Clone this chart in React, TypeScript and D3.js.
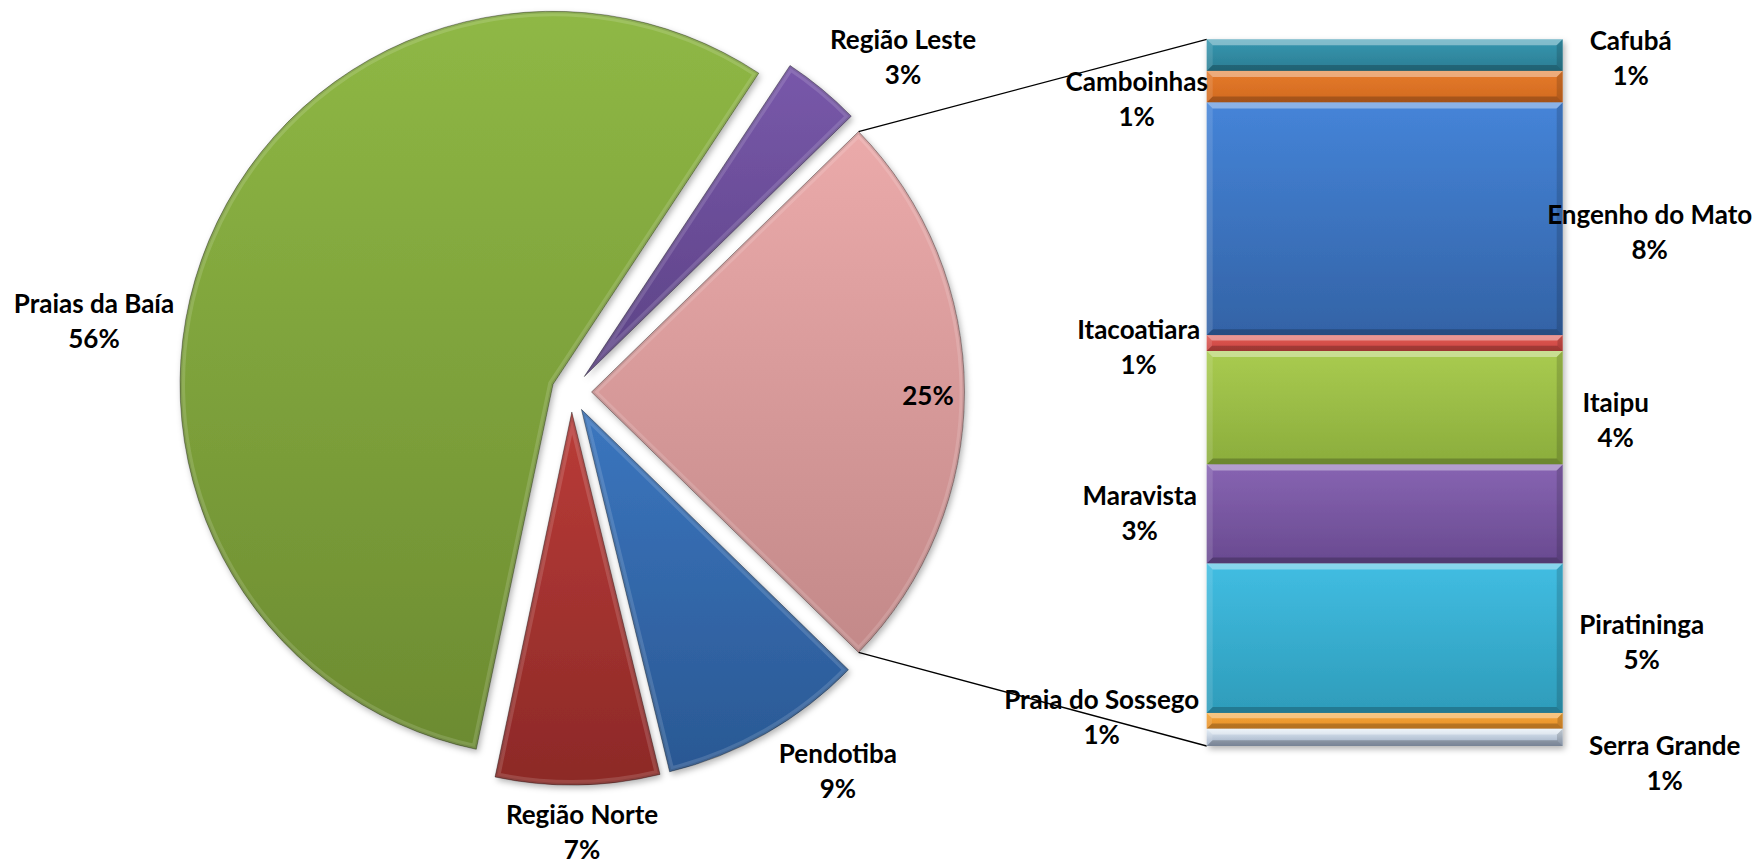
import React from 'react';
import * as d3 from 'd3';

// ---------- DATA ----------
const mainCategories = ['Pendotiba', 'Região Norte', 'Praias da Baía', 'Região Leste'];
const mainValues = [8.9, 7.1, 56.0, 3.4];

const barCategories = [
  'Cafubá',
  'Camboinhas',
  'Engenho do Mato',
  'Itacoatiara',
  'Itaipu',
  'Maravista',
  'Piratininga',
  'Praia do Sossego',
  'Serra Grande',
];
const barValues = [1.1, 1.1, 8.1, 0.55, 3.95, 3.45, 5.2, 0.55, 0.6];

// ---------- STYLES / LAYOUT ----------
const W = 1756;
const H = 866;
const FONT = "Lato, 'Open Sans', 'DejaVu Sans', sans-serif";
const FONT_SIZE = 26;
const LINE_GAP = 35;

const otherColor: [string, string] = ['#EBAAAA', '#C38989'];
const mainColors: [string, string][] = [
  ['#3B76BF', '#2A5893'], // Pendotiba
  ['#BA3C38', '#8C2927'], // Região Norte
  ['#8FB845', '#6C8B31'], // Praias da Baía
  ['#7858AA', '#5C4285'], // Região Leste
];
const barColors: [string, string][] = [
  ['#3697B0', '#2B7D93'], // Cafubá
  ['#E57A2C', '#D26A1F'], // Camboinhas
  ['#4584D8', '#3363A6'], // Engenho do Mato
  ['#E05A55', '#C9443F'], // Itacoatiara
  ['#A9CB50', '#8BAD3C'], // Itaipu
  ['#8764B2', '#694A90'], // Maravista
  ['#41BDE2', '#2E9CBA'], // Piratininga
  ['#F2A435', '#E8902A'], // Praia do Sossego
  ['#E2EDF6', '#9AA9C0'], // Serra Grande
];

const pieCx = 571.5;
const pieCy = 392;
const pieR = 373;
const explode = 20;

const barX0 = 1206.7;
const barX1 = 1562.7;
const barTop = 39.3;
const barBottom = 746;

// label nudges (layout only)
const pieLabelOffsets: [number, number][] = [
  [42, -14.5], // Pendotiba
  [3.4, -13], // Região Norte
  [-59.5, 102.7], // Praias da Baía
  [42.8, 13.5], // Região Leste
];
const otherLabelOffset: [number, number] = [0.8, 3];
const barLabelOffsets: [number, number][] = [
  [0, 2.6],
  [-2, 12],
  [19, 12.5],
  [0, 3],
  [-15, 12],
  [1, -2],
  [11, 3],
  [-37, -4],
  [34, 25],
];

function TwoLine({ x, y, l1, l2 }: { x: number; y: number; l1: string; l2: string }) {
  return (
    <g>
      <text x={x} y={y - LINE_GAP / 2} textAnchor="middle" dominantBaseline="central">
        {l1}
      </text>
      <text x={x} y={y + LINE_GAP / 2} textAnchor="middle" dominantBaseline="central">
        {l2}
      </text>
    </g>
  );
}

export default function App() {
  const otherTotal = d3.sum(barValues);
  const pieData = [
    { name: '__other', value: otherTotal, color: otherColor },
    ...mainCategories.map((c, i) => ({ name: c, value: mainValues[i], color: mainColors[i] })),
  ];
  const total = d3.sum(pieData, (d) => d.value);
  const otherSpan = (otherTotal / total) * 2 * Math.PI;
  const start = Math.PI / 2 - otherSpan / 2;
  const pie = d3
    .pie<any>()
    .sort(null)
    .value((d: any) => d.value)
    .startAngle(start)
    .endAngle(start + 2 * Math.PI);
  const arcs = pie(pieData);
  const arcGen = d3.arc<any>().innerRadius(0).outerRadius(pieR);
  const pct = (v: number) => Math.round((v / total) * 100) + '%';

  const offs = arcs.map((a) => {
    const mid = (a.startAngle + a.endAngle) / 2;
    return [explode * Math.sin(mid), -explode * Math.cos(mid)];
  });

  // connector lines from the "other" slice to the bar
  const otherArc = arcs[0];
  const [ox, oy] = offs[0];
  const pTop = [
    pieCx + ox + pieR * Math.sin(otherArc.startAngle),
    pieCy + oy - pieR * Math.cos(otherArc.startAngle),
  ];
  const pBot = [
    pieCx + ox + pieR * Math.sin(otherArc.endAngle),
    pieCy + oy - pieR * Math.cos(otherArc.endAngle),
  ];

  // bar
  const yScale = d3.scaleLinear().domain([0, otherTotal]).range([barTop, barBottom]);
  const cum = Array.from(d3.cumsum(barValues));
  const segs = barValues.map((v, i) => {
    const s = i === 0 ? 0 : cum[i - 1];
    return { name: barCategories[i], value: v, y0: yScale(s), y1: yScale(s + v), color: barColors[i] };
  });

  return (
    <svg
      width={W}
      height={H}
      style={{ position: 'absolute', left: 0, top: 0, background: '#fff' }}
      fontFamily={FONT}
      fontSize={FONT_SIZE}
      fontWeight={700}
    >
      <defs>
        <filter id="shadow" x="-20%" y="-20%" width="140%" height="140%">
          <feDropShadow dx="2" dy="3" stdDeviation="3" floodColor="#000" floodOpacity="0.3" />
        </filter>
        {pieData.map((d, i) => (
          <linearGradient key={'pg' + i} id={'pg' + i} x1="0" y1="0" x2="0" y2="1">
            <stop offset="0%" stopColor={d.color[0]} />
            <stop offset="100%" stopColor={d.color[1]} />
          </linearGradient>
        ))}
        {segs.map((d, i) => (
          <linearGradient key={'bg' + i} id={'bg' + i} x1="0" y1="0" x2="0" y2="1">
            <stop offset="0%" stopColor={d.color[0]} />
            <stop offset="100%" stopColor={d.color[1]} />
          </linearGradient>
        ))}
        {arcs.map((a, i) => (
          <clipPath key={'pc' + i} id={'pc' + i}>
            <path d={arcGen(a) || ''} />
          </clipPath>
        ))}
      </defs>

      {/* connector lines */}
      <line x1={pTop[0]} y1={pTop[1]} x2={barX0} y2={barTop} stroke="#000" strokeWidth={1.3} />
      <line x1={pBot[0]} y1={pBot[1]} x2={barX0} y2={barBottom} stroke="#000" strokeWidth={1.3} />

      {/* pie */}
      {arcs.map((a, i) => {
        const d = arcGen(a) || '';
        return (
          <g key={'s' + i} transform={`translate(${pieCx + offs[i][0]},${pieCy + offs[i][1]})`}>
            <path d={d} fill={`url(#pg${i})`} filter="url(#shadow)" />
            <g clipPath={`url(#pc${i})`}>
              <path d={d} fill="none" stroke="#fff" strokeOpacity={0.14} strokeWidth={10} strokeLinejoin="round" />
              <path d={d} fill="none" stroke="#000" strokeOpacity={0.1} strokeWidth={4} strokeLinejoin="round" />
            </g>
            <path d={d} fill="none" stroke="#000" strokeOpacity={0.35} strokeWidth={1} />
          </g>
        );
      })}

      {/* bar */}
      <g filter="url(#shadow)">
        {segs.map((s, i) => (
          <rect key={'r' + i} x={barX0} y={s.y0} width={barX1 - barX0} height={s.y1 - s.y0} fill={`url(#bg${i})`} />
        ))}
      </g>
      {segs.map((s, i) => {
        const h = s.y1 - s.y0;
        const b = Math.min(6, h / 3);
        const x0 = barX0;
        const x1 = barX1;
        const y0 = s.y0;
        const y1 = s.y1;
        return (
          <g key={'bv' + i}>
            <polygon
              points={`${x0},${y0} ${x1},${y0} ${x1 - b},${y0 + b} ${x0 + b},${y0 + b}`}
              fill="#fff"
              fillOpacity={0.38}
            />
            <polygon
              points={`${x0},${y1} ${x1},${y1} ${x1 - b},${y1 - b} ${x0 + b},${y1 - b}`}
              fill="#000"
              fillOpacity={0.22}
            />
            <polygon
              points={`${x0},${y0} ${x0 + b},${y0 + b} ${x0 + b},${y1 - b} ${x0},${y1}`}
              fill="#fff"
              fillOpacity={0.12}
            />
            <polygon
              points={`${x1},${y0} ${x1 - b},${y0 + b} ${x1 - b},${y1 - b} ${x1},${y1}`}
              fill="#000"
              fillOpacity={0.15}
            />
          </g>
        );
      })}

      {/* pie labels */}
      {arcs.map((a, i) => {
        const mid = (a.startAngle + a.endAngle) / 2;
        if (i === 0) {
          const r = pieR * 0.9;
          const x = pieCx + offs[0][0] + r * Math.sin(mid) + otherLabelOffset[0];
          const y = pieCy + offs[0][1] - r * Math.cos(mid) + otherLabelOffset[1];
          return (
            <text key="l0" x={x} y={y} textAnchor="middle" dominantBaseline="central">
              {pct(a.data.value)}
            </text>
          );
        }
        const r = pieR + explode + 60;
        const off = pieLabelOffsets[i - 1];
        const x = pieCx + r * Math.sin(mid) + off[0];
        const y = pieCy - r * Math.cos(mid) + off[1];
        return <TwoLine key={'l' + i} x={x} y={y} l1={a.data.name} l2={pct(a.data.value)} />;
      })}

      {/* bar labels */}
      {segs.map((s, i) => {
        const right = i % 2 === 0;
        const baseX = right ? barX1 + 68 : barX0 - 68;
        const off = barLabelOffsets[i];
        const x = baseX + off[0];
        const y = (s.y0 + s.y1) / 2 + off[1];
        return <TwoLine key={'b' + i} x={x} y={y} l1={s.name} l2={pct(s.value)} />;
      })}
    </svg>
  );
}
